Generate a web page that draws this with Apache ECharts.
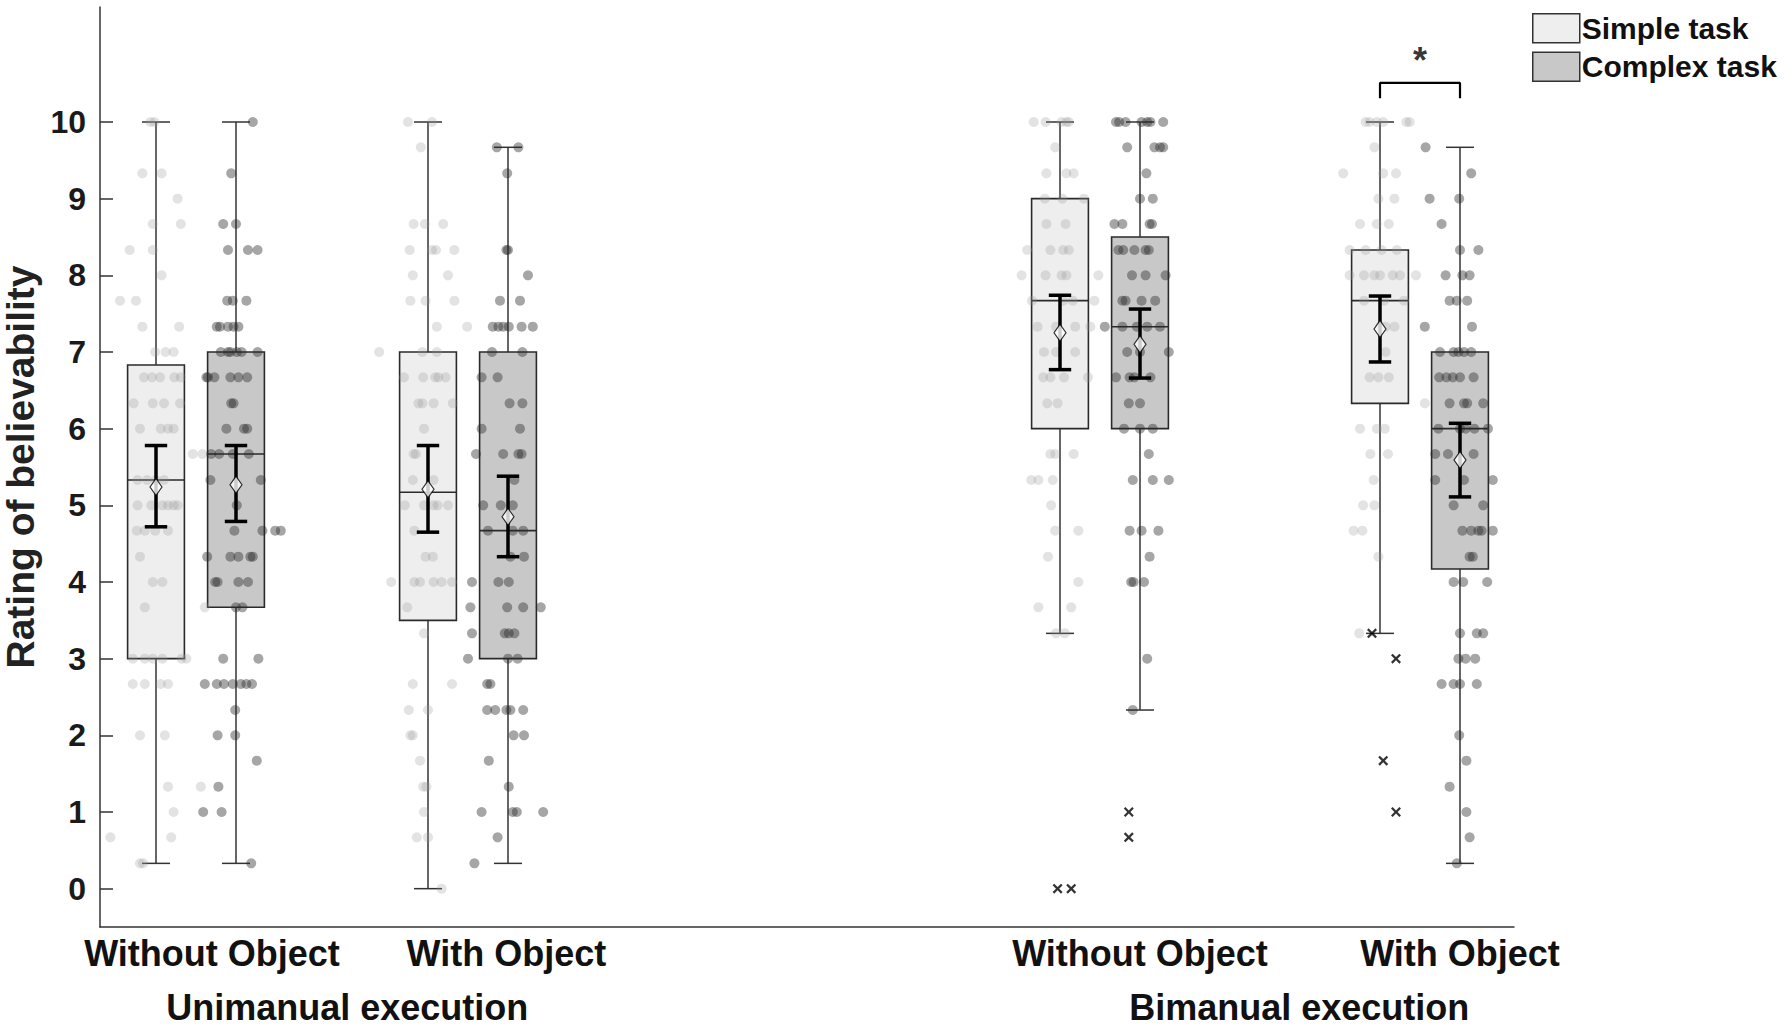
<!DOCTYPE html>
<html>
<head>
<meta charset="utf-8">
<script src="https://cdn.jsdelivr.net/npm/echarts@6/dist/echarts.min.js"></script>
<style>
  html, body { margin: 0; padding: 0; background: #fff; }
  #main { width: 1784px; height: 1028px; }
</style>
</head>
<body>
<div id="main"></div>
<script>
// box positions on the x value axis (simple / complex task, per condition)
var simplePos = [0.7, 4.1, 12.0, 16.0];
var complexPos = [1.7, 5.1, 13.0, 17.0];

// category labels and where they sit
var condLabels = ['Without Object', 'With Object', 'Without Object', 'With Object'];
var condLabelPos = [1.4, 5.08, 13.0, 17.0];
var groupLabels = ['Unimanual execution', 'Bimanual execution'];
var groupLabelPos = [3.09, 14.99];
var yTicks = [0, 1, 2, 3, 4, 5, 6, 7, 8, 9, 10];

// box stats: [whisker low, q1, median, q3, whisker high]
var simpleBox = [[0.33, 3.0, 5.33, 6.83, 10], [0, 3.5, 5.17, 7.0, 10], [3.33, 6.0, 7.67, 9.0, 10], [3.33, 6.33, 7.67, 8.33, 10]];
var complexBox = [[0.33, 3.67, 5.67, 7.0, 10], [0.33, 3.0, 4.67, 7.0, 9.67], [2.33, 6.0, 7.33, 8.5, 10], [0.33, 4.17, 6.0, 7.0, 9.67]];

// means and confidence intervals
var simpleMean = [5.24, 5.21, 7.25, 7.3];
var complexMean = [5.27, 4.85, 7.1, 5.59];
var simpleCI = [[4.72, 5.78], [4.65, 5.78], [6.77, 7.74], [6.87, 7.73]];
var complexCI = [[4.79, 5.78], [4.33, 5.38], [6.66, 7.56], [5.11, 6.07]];

// outliers: [box index, x offset, value]
var simpleOut = [[2, -0.03, 0], [2, 0.14, 0], [3, -0.1, 3.33], [3, 0.2, 3.0], [3, 0.04, 1.67], [3, 0.2, 1.0]];
var complexOut = [[2, -0.14, 1.0], [2, -0.14, 0.67]];

// individual ratings per box: [value, [x offsets]]
var simpleDots = [
  [[10,[-0.07,-0.02]],[9.33,[-0.17,0.07]],[9,[0.27]],[8.67,[-0.04,0.31]],[8.33,[-0.33,-0.04]],[8,[0.07]],[7.67,[-0.45,-0.25]],[7.33,[-0.17,0.29]],[7,[-0.01,0.12,0.22]],[6.67,[-0.15,-0.05,0.05,0.23,0.31]],[6.33,[-0.28,-0.04,0.1,0.3]],[6,[-0.2,0.06,0.15,0.22]],[5.67,[0.46,0.58]],[5.33,[-0.23,-0.11,0,0.1]],[5,[-0.23,-0.06,0.08,0.15,0.22,0.27]],[4.67,[-0.24,-0.14,-0.01,0.15]],[4.33,[-0.2]],[4,[-0.04,0.08]],[3.67,[-0.14,0.61]],[3,[-0.29,-0.14,-0.04,0.08,0.32,0.38]],[2.67,[-0.29,-0.14,0.06,0.15]],[2,[-0.2,0.11]],[1.33,[0.15,0.56]],[1,[0.22]],[0.67,[-0.57,0.19]],[0.33,[-0.2,-0.16]]],
  [[10,[-0.25,0.05]],[9.67,[-0.09]],[8.67,[-0.18,-0.04,0.19]],[8.33,[-0.23,0.05,0.1,0.33]],[8,[-0.19,0.25]],[7.67,[-0.22,-0.03,0.33]],[7.33,[0.11,0.49]],[7,[-0.61,-0.07,0.11]],[6.67,[-0.3,-0.06,0.09,0.13,0.22]],[6.33,[-0.12,-0.07,0.07,0.31]],[6,[-0.05]],[5.67,[-0.18,-0.15]],[5.33,[-0.19,0.07]],[5,[-0.29,-0.05,0.07,0.12,0.25]],[4.67,[-0.17]],[4.33,[-0.03,0.06]],[4,[-0.46,-0.17,-0.1,0.07,0.17,0.3]],[3.67,[-0.26]],[3.33,[-0.05]],[2.67,[-0.19,0.3]],[2.33,[-0.24,0]],[2,[-0.22,-0.19]],[1.67,[-0.1]],[1.33,[-0.06,-0.02]],[1,[-0.05]],[0.67,[-0.14,0]],[0,[0.17]]],
  [[10,[-0.33,-0.18,0.02,0.08,0.11]],[9.67,[-0.06]],[9.33,[-0.17,0.08,0.17]],[9,[-0.19,0.03,0.3]],[8.67,[-0.17,0.07]],[8.33,[-0.41,-0.12,0.04,0.11]],[8,[-0.48,-0.18,0.02,0.08,0.48]],[7.67,[-0.35,0.04,0.16,0.43]],[7.33,[-0.28,-0.05,0.19,0.38]],[7,[-0.2,-0.05,0.19]],[6.67,[-0.21,-0.12,0.05,0.35]],[6.33,[-0.16,-0.03]],[5.67,[-0.12,-0.06,0.17]],[5.33,[-0.36,-0.27,-0.09]],[5,[-0.11]],[4.67,[-0.06,0.23]],[4.33,[-0.15]],[4,[0.23]],[3.67,[-0.27,0.14]],[3.33,[-0.05,0.06]]],
  [[10,[-0.18,-0.13,-0.04,0.04,0.33,0.37]],[9.67,[-0.07]],[9.33,[-0.46,0.04,0.2]],[9,[-0.02,0.18]],[8.67,[-0.25,-0.04,0.11]],[8.33,[-0.38,-0.18,0.02,0.21]],[8,[-0.38,-0.2,-0.07,0,0.16,0.25,0.45]],[7.67,[-0.2,0.05,0.3]],[7.33,[0,0.07,0.18]],[7,[0.07]],[6.67,[-0.13,-0.02,0.11]],[6.33,[0.56]],[6,[-0.25,-0.04,0.06]],[5.67,[-0.12,0.1]],[5.33,[-0.08]],[5,[-0.21,-0.07]],[4.67,[-0.33,-0.22]],[4.33,[-0.02]],[3.33,[-0.26]]]
];
var complexDots = [
  [[10,[0.21]],[9.33,[-0.06]],[8.67,[-0.16,0]],[8.33,[-0.1,0.15,0.27]],[7.67,[-0.11,-0.04,0.13]],[7.33,[-0.24,-0.2,-0.1,-0.03,0.03]],[7,[-0.19,-0.1,-0.07,0.01,0.07,0.27]],[6.67,[-0.37,-0.35,-0.27,-0.07,0.03,0.14]],[6.33,[-0.06,-0.03]],[6,[-0.12,0.1,0.14]],[5.67,[-0.31,-0.21,-0.04,0.16]],[5.33,[-0.32,0.31]],[5,[0.01]],[4.67,[-0.02,0.33,0.49,0.56]],[4.33,[-0.36,-0.07,0.03,0.18,0.21]],[4,[-0.26,-0.23,0.03,0.15]],[3.67,[0,0.08]],[3,[-0.16,0.28]],[2.67,[-0.39,-0.24,-0.15,-0.04,0.06,0.13,0.2]],[2.33,[-0.01]],[2,[-0.23,-0.01]],[1.67,[0.26]],[1.33,[-0.22]],[1,[-0.41,-0.18]],[0.33,[0.19]]],
  [[9.67,[-0.14,0.13]],[9.33,[-0.01]],[8.33,[-0.02,0]],[8,[0.25]],[7.67,[-0.1,0.15]],[7.33,[-0.19,-0.12,-0.06,0.01,0.17,0.31]],[7,[-0.2,0.18]],[6.67,[-0.33,-0.13]],[6.33,[0.02,0.18]],[6,[-0.33,0.15]],[5.67,[-0.4,-0.06,0.13,0.17]],[5.33,[0.08]],[5,[-0.31,-0.09,0.06]],[4.67,[-0.25,0.06,0.19]],[4.33,[0.03,0.2]],[4,[-0.45,-0.12,0.01]],[3.67,[-0.47,-0.01,0.19,0.41]],[3.33,[-0.45,-0.04,0.01,0.08]],[3,[-0.5,0,0.12]],[2.67,[-0.26,-0.22]],[2.33,[-0.26,-0.16,-0.02,0.03,0.19]],[2,[0.07,0.2]],[1.67,[-0.24]],[1.33,[0.01]],[1,[-0.33,0.06,0.11,0.44]],[0.67,[-0.13]],[0.33,[-0.42]]],
  [[10,[-0.3,-0.26,-0.18,0.02,0.09,0.13,0.29]],[9.67,[-0.16,0.18,0.25,0.29]],[9.33,[0.08]],[9,[0,0.16]],[8.67,[-0.32,-0.22,0.12,0.15]],[8.33,[-0.27,-0.21,-0.07,0.07,0.11]],[8,[-0.1,0.07,0.32]],[7.67,[-0.22,-0.18,0.02,0.19]],[7.33,[-0.44,-0.22,-0.04,0.09,0.25]],[7,[-0.16,0,0.36]],[6.67,[-0.3,-0.13,-0.07,0.13]],[6.33,[-0.14,0]],[6,[-0.2,0,0.16]],[5.67,[0.11]],[5.33,[-0.09,0.16,0.36]],[4.67,[-0.13,0.02,0.23]],[4.33,[0.12]],[4,[-0.11,-0.08,0.05]],[3,[0.09]],[2.33,[-0.09]]],
  [[9.67,[-0.43]],[9.33,[0.14]],[9,[-0.38,-0.01]],[8.67,[-0.23]],[8.33,[0,0.23]],[8,[-0.18,0.03,0.12]],[7.67,[-0.13,-0.04,0.09]],[7.33,[-0.44,0.15]],[7,[-0.25,-0.08,-0.02,0.05,0.14]],[6.67,[-0.26,-0.17,-0.09,0,0.17]],[6.33,[-0.13,0.05,0.09,0.29]],[6,[-0.27,0,0.07,0.18,0.35]],[5.67,[-0.31,-0.15,0.17]],[5.33,[-0.31,0.05,0.41]],[5,[-0.08,0.29]],[4.67,[0.03,0.14,0.23,0.27,0.41]],[4.33,[0.12,0.16]],[4,[-0.08,0.04,0.34]],[3.33,[0,0.21,0.29]],[3,[-0.02,0.07,0.19]],[2.67,[-0.23,-0.08,0,0.21]],[2,[-0.01]],[1.67,[0.08]],[1.33,[-0.13]],[1,[0.08]],[0.67,[0.12]],[0.33,[-0.04]]]
];

// significance bracket between the two "With Object" bimanual boxes
var sigPair = [simplePos[3], complexPos[3]];
var sigLevel = [10.31, 10.51];
var sigStar = [16.5, 10.8];

var FONT = '"Liberation Sans", Arial, sans-serif';
var BOX_W = 0.71, CAP_W = 0.35, CI_CAP_W = 0.28;

function boxData(pos, stats) {
  return stats.map(function (s, i) { return [pos[i]].concat(s); });
}
function dotData(pos, dots) {
  var out = [];
  dots.forEach(function (rows, i) {
    rows.forEach(function (r) {
      r[1].forEach(function (o) { out.push([pos[i] + o, r[0]]); });
    });
  });
  return out;
}
function outData(pos, outs) {
  return outs.map(function (o) { return [pos[o[0]] + o[1], o[2]]; });
}

function renderBox(fill) {
  return function (params, api) {
    var x = api.value(0);
    var lo = api.coord([x, api.value(1)]);
    var q1 = api.coord([x, api.value(2)]);
    var med = api.coord([x, api.value(3)]);
    var q3 = api.coord([x, api.value(4)]);
    var hi = api.coord([x, api.value(5)]);
    var bw = api.size([BOX_W, 0])[0];
    var cw = api.size([CAP_W, 0])[0];
    var cx = lo[0];
    var ls = { stroke: '#333', lineWidth: 1.5 };
    return {
      type: 'group',
      children: [
        { type: 'line', shape: { x1: cx, y1: hi[1], x2: cx, y2: q3[1] }, style: ls },
        { type: 'line', shape: { x1: cx, y1: q1[1], x2: cx, y2: lo[1] }, style: ls },
        { type: 'line', shape: { x1: cx - cw / 2, y1: hi[1], x2: cx + cw / 2, y2: hi[1] }, style: ls },
        { type: 'line', shape: { x1: cx - cw / 2, y1: lo[1], x2: cx + cw / 2, y2: lo[1] }, style: ls },
        { type: 'rect', shape: { x: cx - bw / 2, y: q3[1], width: bw, height: q1[1] - q3[1] },
          style: { fill: fill, stroke: '#2a2a2a', lineWidth: 1.6 } },
        { type: 'line', shape: { x1: cx - bw / 2, y1: med[1], x2: cx + bw / 2, y2: med[1] }, style: { stroke: '#2a2a2a', lineWidth: 1.6 } }
      ]
    };
  };
}

function renderCI(params, api) {
  var x = api.value(0);
  var lo = api.coord([x, api.value(1)]);
  var hi = api.coord([x, api.value(2)]);
  var cw = api.size([CI_CAP_W, 0])[0];
  var st = { stroke: '#000', lineWidth: 3.5 };
  return {
    type: 'group',
    children: [
      { type: 'line', shape: { x1: lo[0], y1: lo[1], x2: lo[0], y2: hi[1] }, style: st },
      { type: 'line', shape: { x1: lo[0] - cw / 2, y1: lo[1], x2: lo[0] + cw / 2, y2: lo[1] }, style: st },
      { type: 'line', shape: { x1: lo[0] - cw / 2, y1: hi[1], x2: lo[0] + cw / 2, y2: hi[1] }, style: st }
    ]
  };
}

var crossPath = 'path://M0,1.6L1.6,0L5,3.4L8.4,0L10,1.6L6.6,5L10,8.4L8.4,10L5,6.6L1.6,10L0,8.4L3.4,5Z';

var chart = echarts.init(document.getElementById('main'), null, { renderer: 'svg' });

var option = {
  animation: false,
  backgroundColor: '#fff',
  grid: { left: 100, top: 7, width: 1414, height: 920, outerBoundsMode: 'none', containLabel: false },
  legend: {
    orient: 'vertical',
    left: 1532,
    top: 13,
    padding: 0,
    itemWidth: 47,
    itemHeight: 29,
    itemGap: 8,
    selectedMode: false,
    textStyle: { fontFamily: FONT, fontSize: 30, fontWeight: 'bold', color: '#111', padding: [0, 0, 0, -3] },
    data: [
      { name: 'Simple task', icon: 'rect', itemStyle: { color: '#eeeeee', borderColor: '#333', borderWidth: 1.5 } },
      { name: 'Complex task', icon: 'rect', itemStyle: { color: '#c8c8c8', borderColor: '#333', borderWidth: 1.5 } }
    ]
  },
  xAxis: [{
    type: 'value', min: 0, max: 17.675,
    splitLine: { show: false },
    axisTick: { show: false },
    axisLine: { onZero: false, lineStyle: { color: '#333', width: 1.5 } },
    axisLabel: {
      customValues: condLabelPos,
      margin: 8,
      formatter: function (v) { return condLabels[condLabelPos.indexOf(v)]; },
      fontFamily: FONT, fontSize: 36, fontWeight: 'bold', color: '#111'
    }
  }, {
    type: 'value', min: 0, max: 17.675, position: 'bottom',
    splitLine: { show: false },
    axisTick: { show: false },
    axisLine: { show: false },
    axisLabel: {
      customValues: groupLabelPos,
      margin: 62,
      formatter: function (v) { return groupLabels[groupLabelPos.indexOf(v)]; },
      fontFamily: FONT, fontSize: 36, fontWeight: 'bold', color: '#111'
    }
  }],
  yAxis: {
    type: 'value', min: -0.5, max: 11.5,
    name: 'Rating of believability',
    nameLocation: 'middle',
    nameGap: 57,
    nameTextStyle: { fontFamily: FONT, fontSize: 39, fontWeight: 'bold', color: '#222' },
    splitLine: { show: false },
    axisLine: { show: true, onZero: false, lineStyle: { color: '#333', width: 1.5 } },
    axisTick: { show: true, inside: true, length: 13, customValues: yTicks, lineStyle: { color: '#333', width: 1.5 } },
    axisLabel: { customValues: yTicks, margin: 14, fontFamily: FONT, fontSize: 32, fontWeight: 'bold', color: '#1a1a1a' }
  },
  series: [
    { name: 'Simple task', type: 'custom', renderItem: renderBox('#eeeeee'), data: boxData(simplePos, simpleBox), z: 1,
      itemStyle: { color: '#eeeeee' } },
    { name: 'Complex task', type: 'custom', renderItem: renderBox('#c8c8c8'), data: boxData(complexPos, complexBox), z: 1,
      itemStyle: { color: '#c8c8c8' } },
    { type: 'scatter', data: dotData(simplePos, simpleDots), symbolSize: 10, z: 3, silent: true,
      itemStyle: { color: 'rgba(150,150,150,0.33)' } },
    { type: 'scatter', data: dotData(complexPos, complexDots), symbolSize: 10, z: 3, silent: true,
      itemStyle: { color: 'rgba(40,40,40,0.52)' } },
    { type: 'scatter', data: outData(simplePos, simpleOut).concat(outData(complexPos, complexOut)),
      symbol: crossPath, symbolSize: 10, z: 4, itemStyle: { color: '#000' } },
    { type: 'custom', renderItem: renderCI, z: 5,
      data: simpleCI.map(function (c, i) { return [simplePos[i], c[0], c[1]]; })
        .concat(complexCI.map(function (c, i) { return [complexPos[i], c[0], c[1]]; })) },
    { type: 'scatter', symbol: 'diamond', symbolSize: [12, 17], z: 6,
      itemStyle: { color: '#fff', borderColor: '#000', borderWidth: 1.2 },
      data: simpleMean.map(function (m, i) { return [simplePos[i], m]; })
        .concat(complexMean.map(function (m, i) { return [complexPos[i], m]; })) },
    { type: 'line', symbol: 'none', z: 6, lineStyle: { color: '#000', width: 2.2 },
      data: [[sigPair[0], sigLevel[0]], [sigPair[0], sigLevel[1]], [sigPair[1], sigLevel[1]], [sigPair[1], sigLevel[0]]] },
    { type: 'scatter', symbolSize: 0, z: 6, data: [sigStar],
      label: { show: true, position: 'inside', formatter: '*', fontFamily: FONT, fontSize: 36, fontWeight: 'bold', color: '#000' } }
  ]
};
chart.setOption(option);
</script>
</body>
</html>
